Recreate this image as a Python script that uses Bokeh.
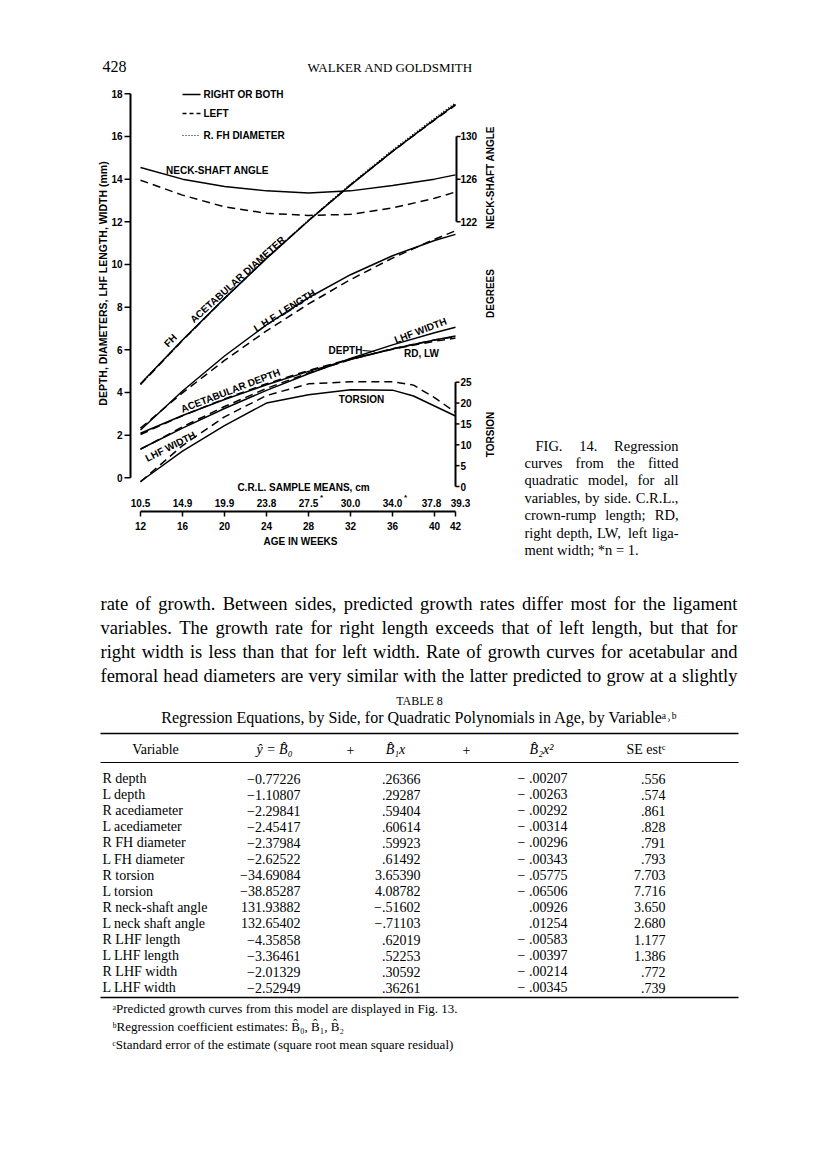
from bokeh.plotting import figure
from bokeh.models import Range1d
from bokeh.embed import file_html
from bokeh.resources import INLINE
from bokeh.core.properties import value

# ---------------- chart data ----------------
AGE = [12, 16, 20, 24, 28, 32, 36, 40, 42]
ACE_DIAM_R = [4.41, 6.46, 8.41, 10.28, 12.05, 13.72, 15.30, 16.79, 17.50]
ACE_DIAM_L = [4.37, 6.44, 8.41, 10.29, 12.06, 13.73, 15.30, 16.77, 17.47]
FH_DIAM_R = [4.39, 6.45, 8.42, 10.30, 12.08, 13.76, 15.36, 16.85, 17.57]
LHF_LEN_R = [2.24, 4.07, 5.71, 7.17, 8.44, 9.52, 10.41, 11.12, 11.41]
LHF_LEN_L = [2.33, 3.98, 5.50, 6.89, 8.15, 9.29, 10.30, 11.18, 11.58]
DEPTH_R = [2.09, 2.92, 3.67, 4.36, 4.99, 5.55, 6.04, 6.46, 6.65]
DEPTH_L = [2.03, 2.91, 3.70, 4.41, 5.03, 5.57, 6.03, 6.40, 6.55]
LHF_WID_R = [1.35, 2.33, 3.25, 4.10, 4.88, 5.59, 6.23, 6.80, 7.06]
LHF_WID_L = [1.33, 2.39, 3.34, 4.19, 4.92, 5.54, 6.05, 6.46, 6.61]
NECK_R = [127.1, 126.0, 125.3, 124.9, 124.7, 124.9, 125.4, 126.0, 126.4]
NECK_L = [125.9, 124.5, 123.4, 122.8, 122.6, 122.7, 123.3, 124.2, 124.8]
AGE_TORSION = [12, 16, 20, 24, 28, 32, 36, 38, 40, 42]
TORSION_R = [1.2, 8.5, 14.6, 20.0, 22.0, 23.2, 23.1, 21.7, 19.3, 16.9]
TORSION_L = [1.1, 9.8, 16.7, 21.8, 24.6, 25.1, 25.1, 24.3, 21.3, 17.8]

MM_TICKS = [0, 2, 4, 6, 8, 10, 12, 14, 16, 18]
NECK_TICKS = [122, 126, 130]
TORSION_TICKS = [0, 5, 10, 15, 20, 25]
AGE_TICKS = [12, 16, 20, 24, 28, 32, 36, 40, 42]
CRL_LABELS = ["10.5", "14.9", "19.9", "23.8", "27.5", "30.0", "34.0", "37.8", "39.3"]
CRL_STARRED_AGES = [28, 36]

# ---------------- table data ----------------
TABLE_VARIABLES = ["R depth", "L depth", "R acediameter", "L acediameter",
                   "R FH diameter", "L FH diameter", "R torsion", "L torsion",
                   "R neck-shaft angle", "L neck shaft angle", "R LHF length",
                   "L LHF length", "R LHF width", "L LHF width"]
TABLE_B0 = ["\u22120.77226", "\u22121.10807", "\u22122.29841", "\u22122.45417",
            "\u22122.37984", "\u22122.62522", "\u221234.69084", "\u221238.85287",
            "131.93882", "132.65402", "\u22124.35858", "\u22123.36461",
            "\u22122.01329", "\u22122.52949"]
TABLE_B1 = [".26366", ".29287", ".59404", ".60614", ".59923", ".61492",
            "3.65390", "4.08782", "\u2212.51602", "\u2212.71103", ".62019",
            ".52253", ".30592", ".36261"]
TABLE_B2 = ["\u2212 .00207", "\u2212 .00263", "\u2212 .00292", "\u2212 .00314",
            "\u2212 .00296", "\u2212 .00343", "\u2212 .05775", "\u2212 .06506",
            ".00926", ".01254", "\u2212 .00583", "\u2212 .00397",
            "\u2212 .00214", "\u2212 .00345"]
TABLE_SE = [".556", ".574", ".861", ".828", ".791", ".793", "7.703", "7.716",
            "3.650", "2.680", "1.177", "1.386", ".772", ".739"]

PARAGRAPH = [
    "rate of growth. Between sides, predicted growth rates differ most for the ligament",
    "variables. The growth rate for right length exceeds that of left length, but that for",
    "right width is less than that for left width. Rate of growth curves for acetabular and",
    "femoral head diameters are very similar with the latter predicted to grow at a slightly",
]
CAPTION = [
    "FIG. 14. Regression",
    "curves from the fitted",
    "quadratic model, for all",
    "variables, by side. C.R.L.,",
    "crown-rump length; RD,",
    "right depth, LW, left liga-",
    "ment width; *n = 1.",
]
FOOTNOTES = [
    "\u1d43Predicted growth curves from this model are displayed in Fig. 13.",
    "\u1d47Regression coefficient estimates: B\u0302\u2080, B\u0302\u2081, B\u0302\u2082",
    "\u1d9cStandard error of the estimate (square root mean square residual)",
]

# Times / Liberation Serif advance widths (1/1000 em) used to justify lines
TIMES_W = {" ": 250, ".": 250, ",": 250, ";": 278, ":": 278, "-": 333, "*": 500,
           "=": 564, "(": 333, ")": 333}
TIMES_W.update({c: 500 for c in "0123456789"})
TIMES_W.update(dict(zip("abcdefghijklmnopqrstuvwxyz",
                        [444, 500, 444, 500, 444, 333, 500, 500, 278, 278, 500, 278, 778,
                         500, 500, 500, 500, 333, 389, 278, 500, 500, 722, 500, 500, 444])))
TIMES_W.update(dict(zip("ABCDEFGHIJKLMNOPQRSTUVWXYZ",
                        [722, 667, 667, 722, 611, 556, 722, 722, 333, 389, 722, 611, 889,
                         722, 722, 556, 722, 667, 556, 611, 722, 722, 944, 722, 722, 611])))

# ---------------- page figure ----------------
W, H = 808, 1149
X0, Y0 = 0, 0  # canvas origin in page pixels: default ranges are page pixels


def map_range(v1, p1, v2, p2, pa, pb):
    k = (v2 - v1) / (p2 - p1)
    return Range1d(start=v1 + (pa - p1) * k, end=v1 + (pb - p1) * k)


def mm_px(mm):
    return 477.3 - 21.333 * mm


p = figure(width=W, height=H, output_backend="svg", toolbar_location=None,
           x_range=Range1d(X0, X0 + W), y_range=Range1d(Y0 + H, Y0),
           min_border=0, x_axis_location=None, y_axis_location=None)
p.grid.visible = False
p.xgrid.visible = False
p.ygrid.visible = False
p.outline_line_color = None
p.background_fill_color = "white"
p.border_fill_color = "white"

p.extra_x_ranges = {"age": map_range(12, 140, 42, 455, X0, X0 + W)}
p.extra_y_ranges = {
    "mm": map_range(0, mm_px(0), 18, mm_px(18), Y0 + H, Y0),
    "neck": map_range(122, mm_px(12), 130, mm_px(16), Y0 + H, Y0),
    "tors": map_range(0, 486, 25, 381.7, Y0 + H, Y0),
}

SANS = value("Liberation Sans")
SERIF = value("Liberation Serif")


def txt(x, y, s, size=14, font=SERIF, align="left", baseline="middle",
        angle=0.0, style="normal", **kw):
    if not isinstance(x, list):
        x, y, s = [x], [y], [s]
    p.text(x=x, y=y, text=s, text_font=font, text_font_size=f"{size}px",
           text_align=align, text_baseline=baseline, angle=angle,
           text_font_style=style, text_color="black", **kw)


def lbl(x, y, s, size=10, align="center", angle_deg=0.0, **kw):
    txt(x, y, s, size=size, font=SANS, align=align, style="bold",
        angle=angle_deg * 3.14159265 / 180.0, **kw)


def justified(line, x_left, x_right, y, size):
    words = line.split()
    widths = [sum(TIMES_W.get(c, 500) for c in w) * size / 1000.0 for w in words]
    gap = (x_right - x_left - sum(widths)) / max(len(words) - 1, 1)
    xs, x = [], x_left
    for w in widths:
        xs.append(x)
        x += w + gap
    txt(xs, [y] * len(words), words, size=size)


# ---- curves ----
LW = 1.5
DASH = "8 5"
cv = dict(x_range_name="age", line_color="black", line_width=LW)
p.line(AGE, ACE_DIAM_R, y_range_name="mm", **cv)
p.line(AGE, ACE_DIAM_L, y_range_name="mm", line_dash=DASH, **cv)
p.line(AGE, FH_DIAM_R, y_range_name="mm", line_dash="1 2", **cv)
p.line(AGE, LHF_LEN_R, y_range_name="mm", **cv)
p.line(AGE, LHF_LEN_L, y_range_name="mm", line_dash=DASH, **cv)
p.line(AGE, DEPTH_R, y_range_name="mm", **cv)
p.line(AGE, DEPTH_L, y_range_name="mm", line_dash=DASH, **cv)
p.line(AGE, LHF_WID_R, y_range_name="mm", **cv)
p.line(AGE, LHF_WID_L, y_range_name="mm", line_dash=DASH, **cv)
p.line(AGE, NECK_R, y_range_name="neck", **cv)
p.line(AGE, NECK_L, y_range_name="neck", line_dash=DASH, **cv)
p.line(AGE_TORSION, TORSION_R, y_range_name="tors", **cv)
p.line(AGE_TORSION, TORSION_L, y_range_name="tors", line_dash=DASH, **cv)

# ---- left axis ----
AX_W = 2.0
p.segment(x0=[130], y0=[MM_TICKS[0]], x1=[130], y1=[MM_TICKS[-1]],
          y_range_name="mm", line_color="black", line_width=AX_W)
p.segment(x0=[124] * len(MM_TICKS), x1=[130] * len(MM_TICKS), y0=MM_TICKS, y1=MM_TICKS,
          y_range_name="mm", line_color="black", line_width=1.5)
lbl([122] * len(MM_TICKS), MM_TICKS, [str(t) for t in MM_TICKS], size=10, align="right",
    y_range_name="mm")
lbl(102, 283, "DEPTH, DIAMETERS, LHF LENGTH, WIDTH (mm)", size=10.5, angle_deg=90)

# ---- right neck-shaft axis ----
p.segment(x0=[456], y0=[NECK_TICKS[0]], x1=[456], y1=[NECK_TICKS[-1]],
          y_range_name="neck", line_color="black", line_width=AX_W)
p.segment(x0=[456] * len(NECK_TICKS), x1=[460] * len(NECK_TICKS), y0=NECK_TICKS, y1=NECK_TICKS,
          y_range_name="neck", line_color="black", line_width=1.5)
lbl([460] * len(NECK_TICKS), NECK_TICKS, [str(t) for t in NECK_TICKS], size=10, align="left",
    y_range_name="neck")
lbl(490, 177, "NECK-SHAFT ANGLE", size=10, angle_deg=90)
lbl(490, 293, "DEGREES", size=10, angle_deg=90)

# ---- right torsion axis ----
p.segment(x0=[455], y0=[TORSION_TICKS[0]], x1=[455], y1=[TORSION_TICKS[-1]],
          y_range_name="tors", line_color="black", line_width=AX_W)
p.segment(x0=[455] * len(TORSION_TICKS), x1=[459] * len(TORSION_TICKS),
          y0=TORSION_TICKS, y1=TORSION_TICKS,
          y_range_name="tors", line_color="black", line_width=1.5)
lbl([460] * len(TORSION_TICKS), TORSION_TICKS, [str(t) for t in TORSION_TICKS], size=10,
    align="left", y_range_name="tors")
lbl(490, 434, "TORSION", size=10, angle_deg=90)

# ---- bottom age axis ----
p.segment(x0=[AGE_TICKS[0]], y0=[511], x1=[AGE_TICKS[-1]], y1=[511],
          x_range_name="age", line_color="black", line_width=AX_W)
p.segment(x0=AGE_TICKS, x1=AGE_TICKS, y0=[511] * len(AGE_TICKS), y1=[516] * len(AGE_TICKS),
          x_range_name="age", line_color="black", line_width=1.5)
lbl(AGE_TICKS, [525] * len(AGE_TICKS), [str(t) for t in AGE_TICKS], size=10,
    x_range_name="age")
# the last two C.R.L. labels sit slightly apart, as printed
lbl(AGE_TICKS[:-2], [502] * (len(AGE_TICKS) - 2), CRL_LABELS[:-2], size=10,
    x_range_name="age")
lbl([AGE_TICKS[-2]], [502], [CRL_LABELS[-2]], size=10, x_range_name="age", x_offset=-3)
lbl([AGE_TICKS[-1]], [502], [CRL_LABELS[-1]], size=10, x_range_name="age", x_offset=5)
lbl(CRL_STARRED_AGES, [497] * len(CRL_STARRED_AGES), ["*"] * len(CRL_STARRED_AGES), size=8,
    x_range_name="age", x_offset=13)
lbl(303, 487, "C.R.L. SAMPLE MEANS, cm", size=10)
lbl(300, 541, "AGE IN WEEKS", size=10)

# ---- legend ----
p.segment(x0=[182], y0=[94], x1=[200], y1=[94], line_color="black", line_width=1.4)
p.line([182, 200], [113, 113], line_color="black", line_width=1.4, line_dash="4 3")
p.line([182, 200], [135, 135], line_color="black", line_width=1.2, line_dash="1 2")
lbl(203, 94, "RIGHT OR BOTH", size=10, align="left")
lbl(203, 113, "LEFT", size=10, align="left")
lbl(203, 135, "R. FH DIAMETER", size=10, align="left")

# ---- curve labels ----
lbl(217, 170, "NECK-SHAFT ANGLE", size=10)
lbl(170, 340, "FH", size=10, angle_deg=45)
lbl(237, 279, "ACETABULAR DIAMETER", size=10, angle_deg=42)
lbl(284, 310, "L.H.F. LENGTH", size=10, angle_deg=32)
lbl(420, 330, "LHF WIDTH", size=10, angle_deg=21)
lbl(345, 350, "DEPTH", size=10)
p.segment(x0=[362], y0=[350], x1=[374], y1=[351], line_color="black", line_width=1.2)
lbl(421, 353, "RD, LW", size=10)
lbl(230, 390, "ACETABULAR DEPTH", size=10, angle_deg=21)
lbl(361, 399, "TORSION", size=10)
lbl(170, 446, "LHF WIDTH", size=10, angle_deg=27)

# ---------------- page text ----------------
txt(102, 66, "428", size=16)
txt(307, 67, "WALKER AND GOLDSMITH", size=13)

cap_y = [445 + 17.4 * i for i in range(len(CAPTION))]
for i, line in enumerate(CAPTION):
    if i == 0:
        justified(line, 535, 678, cap_y[i], 14.5)
    elif i < len(CAPTION) - 1:
        justified(line, 524, 678, cap_y[i], 14.5)
    else:
        txt(524, cap_y[i], line, size=14.5)

par_y = [603 + 24 * i for i in range(len(PARAGRAPH))]
for line, y in zip(PARAGRAPH, par_y):
    justified(line, 100, 737, y, 18.5)

# ---- table ----
TS = 14
txt(419, 700, "TABLE 8", size=12, align="center")
txt(419, 717, "Regression Equations, by Side, for Quadratic Polynomials in Age, by Variable\u1d43\u02d2\u1d47",
    size=16, align="center")
p.segment(x0=[100, 100, 100], y0=[733, 762, 997], x1=[738, 738, 738], y1=[733, 762, 997],
          line_color="black", line_width=[1.6, 1.0, 1.6])
hy = 749
txt(155, hy, "Variable", size=TS, align="center")
txt(274, hy, "\u0177 = B\u0302\u2080", size=TS, align="center", style="italic")
txt(350, hy, "+", size=TS, align="center")
txt(395, hy, "B\u0302\u2081x", size=TS, align="center", style="italic")
txt(466, hy, "+", size=TS, align="center")
txt(541, hy, "B\u0302\u2082x\u00b2", size=TS, align="center", style="italic")
txt(665, hy, "SE est\u1d9c", size=TS, align="right")

n = len(TABLE_VARIABLES)
row_y = [778 + 16.1 * i for i in range(n)]
txt([102] * n, row_y, TABLE_VARIABLES, size=TS)
txt([300] * n, row_y, TABLE_B0, size=TS, align="right")
txt([420] * n, row_y, TABLE_B1, size=TS, align="right")
txt([567] * n, row_y, TABLE_B2, size=TS, align="right")
txt([665] * n, row_y, TABLE_SE, size=TS, align="right")

foot_y = [1008 + 18 * i for i in range(len(FOOTNOTES))]
txt([112] * len(FOOTNOTES), foot_y, FOOTNOTES, size=13)

open("out.html", "w").write(file_html(p, INLINE))
